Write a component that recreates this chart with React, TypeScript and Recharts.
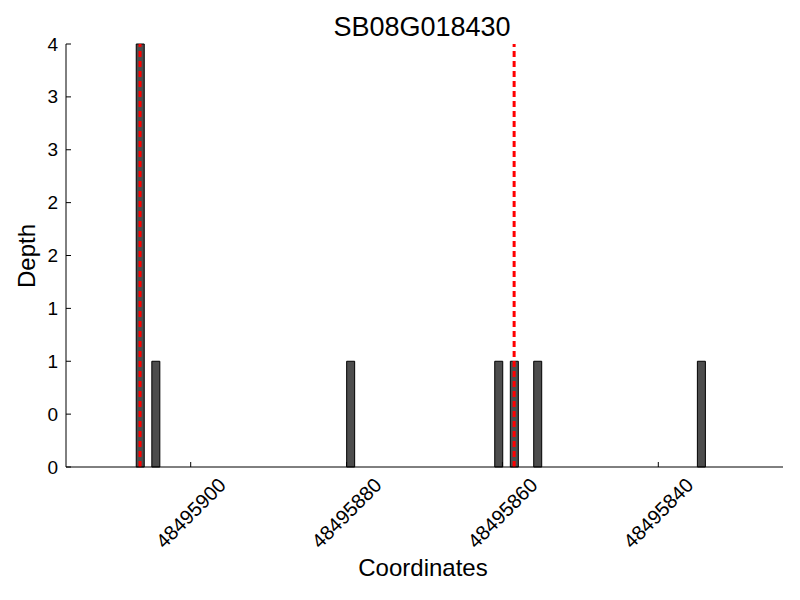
import { BarChart, Bar, XAxis, YAxis, ReferenceLine } from "recharts"

// read coverage per base position (bar centres)
const positions = [48495906.5, 48495904.5, 48495879.5, 48495860.5, 48495858.5, 48495855.5, 48495834.5]
const depths = [4, 1, 1, 1, 1, 1, 1]
const markers = [48495906.5, 48495858.5]
const xTicks = [48495900, 48495880, 48495860, 48495840]
const yTicks = [0, 0.5, 1, 1.5, 2, 2.5, 3, 3.5, 4]
const xDomain = [48495824, 48495916]
const title = "SB08G018430"

const data = positions.map((pos, i) => ({ pos, depth: depths[i] }))

const FONT = "'Liberation Sans', Arial, sans-serif"

const YTick = (props: any) => {
  const { x, y, payload } = props
  return (
    <g>
      <line x1={x} y1={y} x2={x + 5} y2={y} stroke="#000" />
      <text x={x - 8} y={y} textAnchor="end" dominantBaseline="central" fontSize={19} fill="#000" fontFamily={FONT}>
        {Math.trunc(payload.value)}
      </text>
    </g>
  )
}

const XTick = (props: any) => {
  const { x, y, payload } = props
  const cy = y + 46
  return (
    <g>
      <line x1={x} y1={y} x2={x} y2={y - 5} stroke="#000" />
      <text
        x={x}
        y={cy}
        textAnchor="middle"
        dominantBaseline="central"
        fontSize={20}
        fill="#000"
        fontFamily={FONT}
        transform={`rotate(-45 ${x} ${cy})`}
      >
        {payload.value}
      </text>
    </g>
  )
}

const labelStyle: React.CSSProperties = {
  position: "absolute",
  transform: "translate(-50%, -50%)",
  fontFamily: FONT,
  color: "#000",
  whiteSpace: "nowrap",
}

export default function App() {
  return (
    <div style={{ position: "relative", width: 800, height: 600, background: "#fff" }}>
      <style>{`body{margin:0}`}</style>
      <BarChart width={800} height={600} data={data} margin={{ top: 44, right: 17, bottom: 0, left: 0 }}>
        <XAxis
          dataKey="pos"
          type="number"
          domain={xDomain}
          reversed
          ticks={xTicks}
          interval={0}
          height={133}
          tickSize={0}
          tickMargin={0}
          tick={<XTick />}
          axisLine={{ stroke: "#000" }}
        />
        <YAxis
          type="number"
          domain={[0, 4]}
          ticks={yTicks}
          interval={0}
          width={66}
          tickSize={0}
          tickMargin={0}
          tick={<YTick />}
          axisLine={{ stroke: "#000" }}
        />
        <Bar dataKey="depth" barSize={8} fill="#4d4d4d" stroke="#000" strokeWidth={1} isAnimationActive={false} />
        {markers.map((m) => (
          <ReferenceLine key={m} x={m} stroke="#ff0000" strokeWidth={3} strokeDasharray="6 4" />
        ))}
      </BarChart>
      <div style={{ ...labelStyle, left: 422, top: 27, fontSize: 27 }}>{title}</div>
      <div style={{ ...labelStyle, left: 423, top: 568, fontSize: 24 }}>Coordinates</div>
      <div style={{ ...labelStyle, left: 27, top: 256, fontSize: 24, transform: "translate(-50%, -50%) rotate(-90deg)" }}>
        Depth
      </div>
    </div>
  )
}
